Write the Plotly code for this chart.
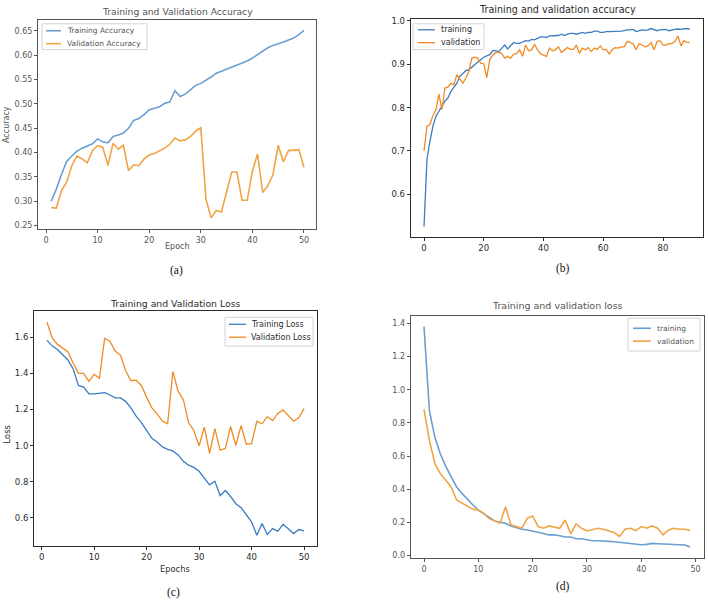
import plotly.graph_objects as go

# ---------------- data ----------------
epochs_a = list(range(1, 51))
train_acc_a = [0.300, 0.325, 0.355, 0.382, 0.393, 0.403, 0.409, 0.413, 0.418, 0.428,
               0.422, 0.420, 0.433, 0.436, 0.440, 0.450, 0.466, 0.470, 0.478, 0.488,
               0.491, 0.494, 0.501, 0.504, 0.527, 0.515, 0.520, 0.530, 0.538, 0.542,
               0.548, 0.555, 0.563, 0.567, 0.571, 0.575, 0.579, 0.583, 0.588, 0.594,
               0.601, 0.608, 0.615, 0.620, 0.623, 0.627, 0.631, 0.635, 0.642, 0.651]
val_acc_a = [0.287, 0.286, 0.322, 0.339, 0.373, 0.393, 0.387, 0.379, 0.404, 0.414,
             0.411, 0.374, 0.419, 0.407, 0.415, 0.363, 0.375, 0.373, 0.387, 0.395,
             0.398, 0.404, 0.409, 0.417, 0.430, 0.424, 0.426, 0.433, 0.444, 0.451,
             0.305, 0.266, 0.281, 0.278, 0.319, 0.360, 0.360, 0.302, 0.302, 0.362,
             0.397, 0.318, 0.332, 0.355, 0.415, 0.381, 0.404, 0.405, 0.406, 0.370]

epochs_b = list(range(0, 90))
train_acc_b = [0.526, 0.681, 0.723, 0.757, 0.780, 0.792, 0.805, 0.815, 0.822, 0.837,
               0.847, 0.856, 0.872, 0.879, 0.885, 0.887, 0.893, 0.901, 0.905, 0.910,
               0.916, 0.919, 0.922, 0.931, 0.931, 0.929, 0.937, 0.944, 0.935, 0.943,
               0.950, 0.948, 0.948, 0.951, 0.954, 0.953, 0.957, 0.956, 0.960, 0.963,
               0.963, 0.961, 0.965, 0.965, 0.966, 0.966, 0.969, 0.966, 0.969, 0.971,
               0.971, 0.969, 0.971, 0.973, 0.971, 0.973, 0.973, 0.976, 0.976, 0.973,
               0.973, 0.975, 0.975, 0.975, 0.975, 0.976, 0.976, 0.977, 0.979, 0.979,
               0.980, 0.975, 0.977, 0.979, 0.978, 0.979, 0.982, 0.980, 0.977, 0.979,
               0.980, 0.980, 0.977, 0.979, 0.980, 0.981, 0.980, 0.982, 0.981, 0.981]
val_acc_b = [0.700, 0.757, 0.761, 0.782, 0.795, 0.831, 0.795, 0.845, 0.847, 0.856,
             0.853, 0.876, 0.866, 0.856, 0.868, 0.883, 0.914, 0.916, 0.914, 0.902,
             0.901, 0.869, 0.910, 0.921, 0.927, 0.927, 0.925, 0.914, 0.918, 0.914,
             0.923, 0.924, 0.933, 0.918, 0.944, 0.931, 0.933, 0.946, 0.933, 0.924,
             0.921, 0.918, 0.937, 0.931, 0.933, 0.940, 0.927, 0.933, 0.938, 0.934,
             0.934, 0.944, 0.925, 0.937, 0.933, 0.938, 0.929, 0.937, 0.934, 0.942,
             0.933, 0.934, 0.923, 0.933, 0.938, 0.937, 0.940, 0.940, 0.952, 0.950,
             0.947, 0.933, 0.947, 0.944, 0.940, 0.942, 0.950, 0.933, 0.952, 0.954,
             0.944, 0.944, 0.947, 0.948, 0.952, 0.965, 0.942, 0.954, 0.950, 0.950]

epochs_c = list(range(1, 51))
train_loss_c = [1.582, 1.552, 1.532, 1.505, 1.474, 1.424, 1.333, 1.324, 1.286, 1.286,
                1.289, 1.293, 1.280, 1.264, 1.264, 1.245, 1.209, 1.163, 1.127, 1.081,
                1.041, 1.020, 0.993, 0.980, 0.971, 0.949, 0.913, 0.892, 0.880, 0.858,
                0.821, 0.783, 0.803, 0.724, 0.752, 0.719, 0.679, 0.657, 0.618, 0.578,
                0.505, 0.569, 0.509, 0.541, 0.527, 0.565, 0.541, 0.514, 0.536, 0.529]
val_loss_c = [1.684, 1.596, 1.560, 1.538, 1.520, 1.456, 1.400, 1.400, 1.355, 1.395,
              1.373, 1.593, 1.578, 1.523, 1.501, 1.414, 1.359, 1.362, 1.333, 1.267,
              1.209, 1.176, 1.136, 1.121, 1.410, 1.300, 1.254, 1.127, 1.084, 0.999,
              1.103, 0.958, 1.094, 0.975, 0.984, 1.106, 1.002, 1.110, 1.008, 1.011,
              1.135, 1.121, 1.161, 1.139, 1.178, 1.198, 1.169, 1.135, 1.154, 1.205]

epochs_d = list(range(0, 50))
train_loss_d = [1.380, 0.872, 0.713, 0.614, 0.538, 0.474, 0.414, 0.375, 0.339, 0.305,
                0.275, 0.251, 0.231, 0.209, 0.201, 0.195, 0.179, 0.169, 0.159, 0.155,
                0.149, 0.139, 0.133, 0.125, 0.125, 0.120, 0.112, 0.112, 0.102, 0.102,
                0.096, 0.090, 0.090, 0.086, 0.086, 0.084, 0.080, 0.076, 0.074, 0.072,
                0.066, 0.068, 0.074, 0.072, 0.070, 0.068, 0.066, 0.066, 0.064, 0.052]
val_loss_d = [0.882, 0.693, 0.554, 0.494, 0.454, 0.414, 0.335, 0.315, 0.295, 0.279,
              0.275, 0.255, 0.223, 0.207, 0.195, 0.295, 0.185, 0.175, 0.165, 0.225,
              0.239, 0.175, 0.165, 0.179, 0.171, 0.165, 0.215, 0.131, 0.191, 0.165,
              0.149, 0.159, 0.165, 0.159, 0.151, 0.139, 0.116, 0.159, 0.165, 0.151,
              0.175, 0.165, 0.179, 0.165, 0.125, 0.155, 0.165, 0.159, 0.159, 0.151]

# ---------------- layout helpers ----------------
W, H = 708, 600
BLUE = "#3b7cc0"
ORANGE = "#f08a24"
BLUE_SOFT = "#6b9fd2"
ORANGE_SOFT = "#f0a445"
FONT = "DejaVu Sans"
SERIF = "Liberation Serif, Times New Roman, serif"
DARK = "#2b2b2b"
GREY = "#555555"


def px_x(v):
    return v / W


def px_y(v):
    return 1 - v / H


def dom_x(a, b):
    return [px_x(a), px_x(b)]


def dom_y(top, bottom):
    return [px_y(bottom), px_y(top)]


fig = go.Figure()

panels = [
    ("", epochs_a, train_acc_a, val_acc_a, ("Training Accuracy", "Validation Accuracy"),
     (BLUE_SOFT, ORANGE_SOFT), 1.6),
    ("2", epochs_b, train_acc_b, val_acc_b, ("training", "validation"),
     (BLUE, ORANGE), 1.3),
    ("3", epochs_c, train_loss_c, val_loss_c, ("Training Loss", "Validation Loss"),
     (BLUE, ORANGE), 1.3),
    ("4", epochs_d, train_loss_d, val_loss_d, ("training", "validation"),
     (BLUE_SOFT, ORANGE_SOFT), 1.6),
]

for suf, xs, tr, va, names, cols, lw in panels:
    fig.add_trace(go.Scatter(x=xs, y=tr, mode="lines", name=names[0],
                             line=dict(color=cols[0], width=lw),
                             xaxis="x" + suf, yaxis="y" + suf))
    fig.add_trace(go.Scatter(x=xs, y=va, mode="lines", name=names[1],
                             line=dict(color=cols[1], width=lw),
                             xaxis="x" + suf, yaxis="y" + suf))


def axis_style(color, size):
    return dict(showline=True, mirror=True, linecolor=color, linewidth=1,
                ticks="outside", ticklen=3, tickwidth=1, tickcolor=color,
                showgrid=False, zeroline=False,
                tickfont=dict(family=FONT, size=size, color=color))


fig.update_layout(
    width=W, height=H, margin=dict(l=0, r=0, t=0, b=0),
    paper_bgcolor="white", plot_bgcolor="white",
    showlegend=False,
    xaxis=dict(domain=dom_x(38, 316), range=[-1.55, 52.33], anchor="y",
               tickvals=[0, 10, 20, 30, 40, 50], **axis_style(GREY, 8)),
    yaxis=dict(domain=dom_y(17, 228), range=[0.2429, 0.6724], anchor="x",
               tickvals=[0.25, 0.30, 0.35, 0.40, 0.45, 0.50, 0.55, 0.60, 0.65],
               tickformat=".2f", **axis_style(GREY, 8)),
    xaxis2=dict(domain=dom_x(410.7, 703.2), range=[-4.45, 93.45], anchor="y2",
                tickvals=[0, 20, 40, 60, 80], **axis_style(DARK, 8.5)),
    yaxis2=dict(domain=dom_y(15.7, 235.5), range=[0.503, 1.005], anchor="x2",
                tickvals=[0.6, 0.7, 0.8, 0.9, 1.0], tickformat=".1f",
                **axis_style(DARK, 8.5)),
    xaxis3=dict(domain=dom_x(34.1, 316.9), range=[-1.45, 52.45], anchor="y3",
                tickvals=[0, 10, 20, 30, 40, 50], **axis_style(DARK, 8.5)),
    yaxis3=dict(domain=dom_y(310.9, 547.4), range=[0.446, 1.743], anchor="x3",
                tickvals=[0.6, 0.8, 1.0, 1.2, 1.4, 1.6], tickformat=".1f",
                **axis_style(DARK, 8.5)),
    xaxis4=dict(domain=dom_x(410.7, 703.5), range=[-2.45, 51.45], anchor="y4",
                tickvals=[0, 10, 20, 30, 40, 50], **axis_style(GREY, 8)),
    yaxis4=dict(domain=dom_y(315.3, 559.7), range=[-0.0144, 1.446], anchor="x4",
                tickvals=[0.0, 0.2, 0.4, 0.6, 0.8, 1.0, 1.2, 1.4], tickformat=".1f",
                **axis_style(GREY, 8)),
)

annotations = []
shapes = []


def text(x, y, s, size, color, family=FONT, angle=0, xanchor="center"):
    annotations.append(dict(x=px_x(x), y=px_y(y), xref="paper", yref="paper",
                            text=s, showarrow=False, xanchor=xanchor, yanchor="middle",
                            textangle=angle, borderpad=0,
                            font=dict(family=family, size=size, color=color)))


def legend(box, rows, sample, text_x, names, colors, lw, size, color):
    x0, y0, x1, y1 = box
    shapes.append(dict(type="rect", xref="paper", yref="paper",
                       x0=px_x(x0), x1=px_x(x1), y0=px_y(y1), y1=px_y(y0),
                       line=dict(color="#d4d4d4", width=1),
                       fillcolor="rgba(255,255,255,0.85)"))
    for ry, nm, col in zip(rows, names, colors):
        shapes.append(dict(type="line", xref="paper", yref="paper",
                           x0=px_x(sample[0]), x1=px_x(sample[1]),
                           y0=px_y(ry), y1=px_y(ry),
                           line=dict(color=col, width=lw)))
        text(text_x, ry, nm, size, color, xanchor="left")


# legends (matplotlib style boxes)
legend((42, 21, 147, 47), (28, 41), (46, 61), 66,
       ("Training Accuracy", "Validation Accuracy"), (BLUE_SOFT, ORANGE_SOFT), 1.6, 7.5, GREY)
legend((413, 21, 484, 47), (27, 40), (418, 435), 440,
       ("training", "validation"), (BLUE, ORANGE), 1.3, 8, DARK)
legend((225, 317, 313, 346), (324, 337), (229, 246), 250,
       ("Training Loss", "Validation Loss"), (BLUE, ORANGE), 1.3, 8, DARK)
legend((628, 318, 700, 351), (328, 341), (633, 651), 656,
       ("training", "validation"), (BLUE_SOFT, ORANGE_SOFT), 1.6, 7.5, GREY)

# titles
text(177, 9, "Training and Validation Accuracy", 9.2, GREY)
text(557, 7, "Training and validation accuracy", 9.6, DARK)
text(175, 303, "Training and Validation Loss", 9.3, DARK)
text(557, 305, "Training and validation loss", 9.5, GREY)
# axis titles
text(177, 246, "Epoch", 8, GREY)
text(7, 123, "Accuracy", 8, GREY, angle=-90)
text(175, 571, "Epochs", 8.3, DARK)
text(7, 435, "Loss", 8.3, DARK, angle=-90)
# captions
text(176, 270, "(a)", 11.5, "#111111", family=SERIF)
text(563, 268, "(b)", 11.5, "#111111", family=SERIF)
text(173, 594, "(c)", 11.5, "#111111", family=SERIF)
text(563, 588, "(d)", 11.5, "#111111", family=SERIF)

fig.update_layout(annotations=annotations, shapes=shapes)

fig.write_html("out.html")
